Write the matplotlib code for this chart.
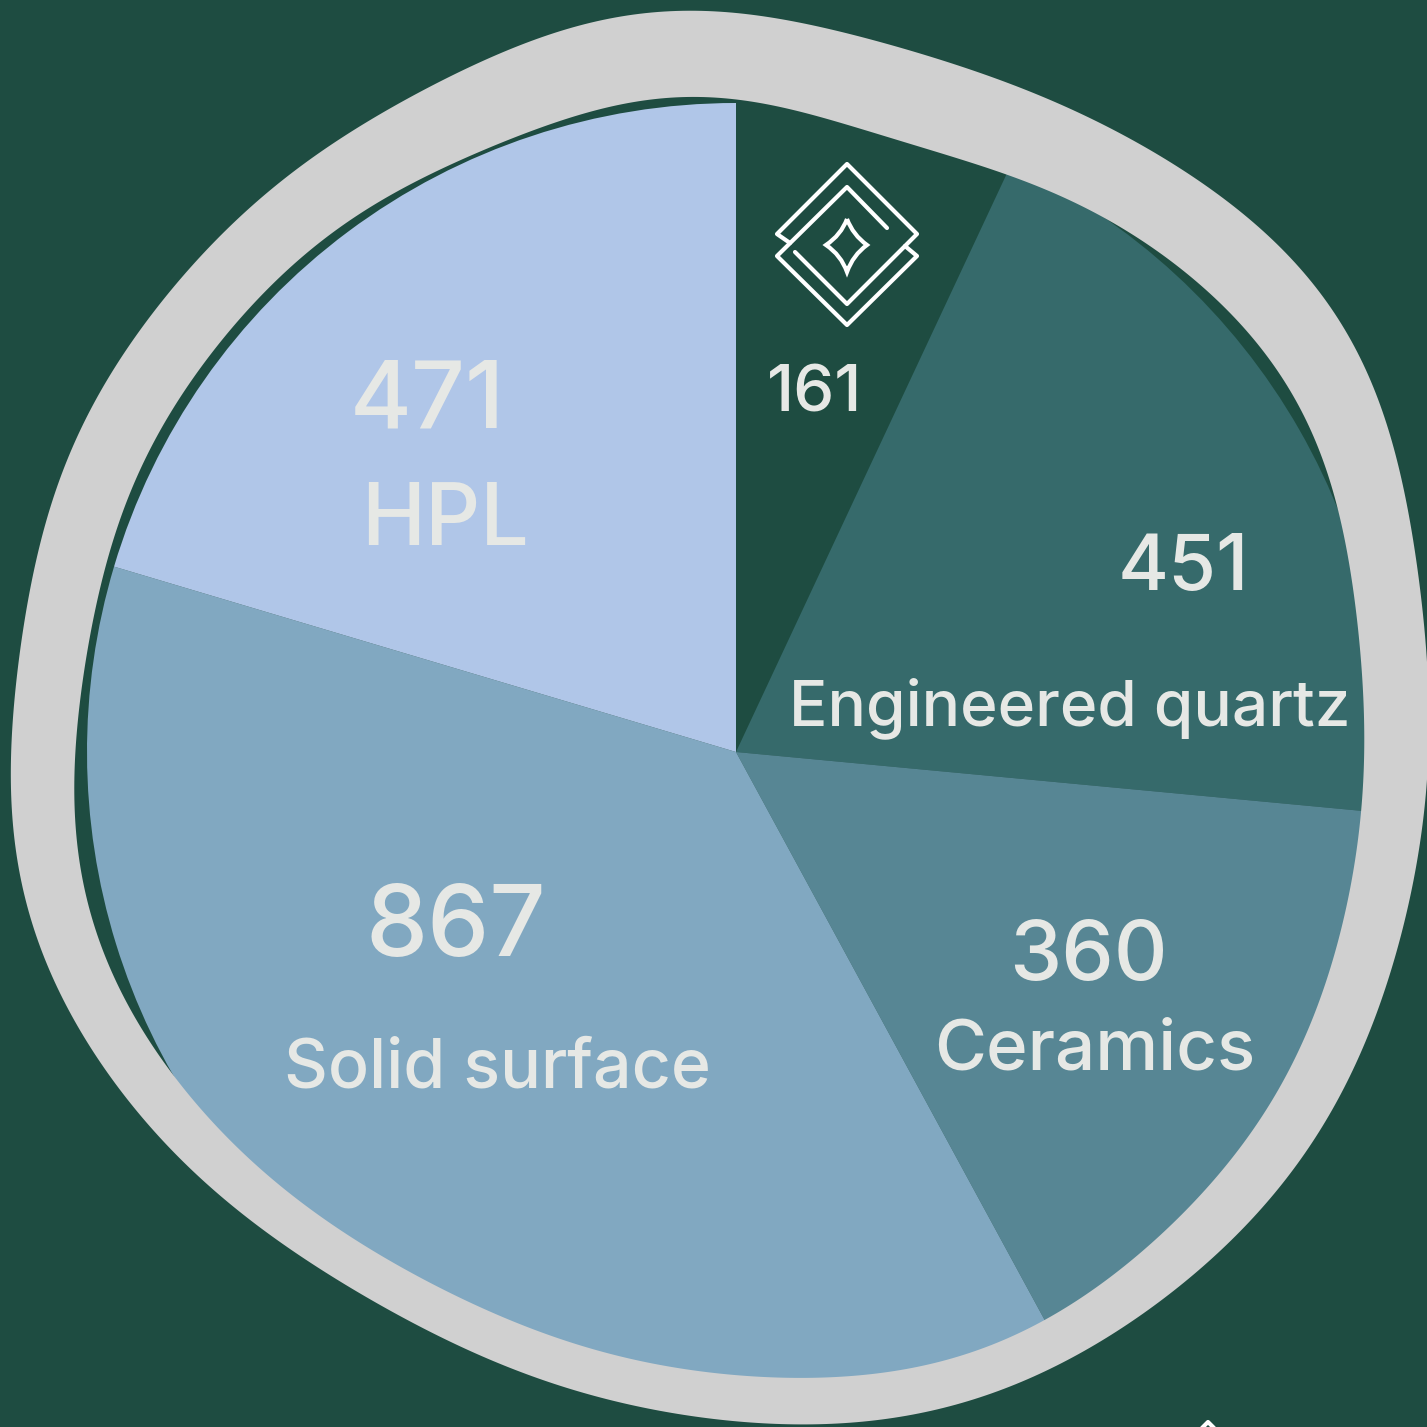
import numpy as np
import matplotlib
matplotlib.use('Agg')
import matplotlib.pyplot as plt
from matplotlib.path import Path
from matplotlib.patches import PathPatch

# Slices, clockwise from 12 o'clock
categories = ['', 'Engineered quartz', 'Ceramics', 'Solid surface', 'HPL']
values = [161, 451, 360, 867, 471]
colors = ['#1E4C41', '#366A6B', '#578694', '#81A8C1', '#B0C6E8']

BG = '#1E4C41'
RING = '#D0D0D0'
TEXT = '#E6E8E5'

# Hand drawn ring round the pie, in picture pixels
ring_outer = [(617, 17), (690, 10), (750, 14), (850, 35), (950, 63), (1050, 99), (1127, 137),
              (1210, 190), (1277, 243), (1327, 303), (1367, 370), (1394, 450), (1410, 533),
              (1423, 600), (1429, 680), (1428, 750), (1422, 817), (1410, 900), (1390, 977),
              (1367, 1040), (1335, 1100), (1281, 1187), (1221, 1250), (1154, 1307), (1087, 1347),
              (1021, 1383), (937, 1410), (854, 1422), (794, 1424), (740, 1422), (690, 1416),
              (640, 1407), (590, 1394), (540, 1379), (490, 1360), (440, 1338), (383, 1305),
              (317, 1267), (250, 1220), (183, 1163), (150, 1127), (117, 1083), (67, 1005),
              (43, 959), (23, 894), (14, 825), (13, 749), (18, 653), (32, 577), (53, 500),
              (70, 457), (105, 383), (151, 313), (210, 247), (281, 183), (368, 120), (456, 73),
              (550, 36)]
ring_inner = [(600, 108), (650, 99), (690, 97), (750, 102), (850, 125), (950, 157), (1027, 181),
              (1127, 232), (1210, 293), (1260, 347), (1304, 417), (1334, 490), (1345, 550),
              (1355, 600), (1364, 690), (1364, 733), (1360, 810), (1349, 900), (1324, 987),
              (1300, 1047), (1272, 1100), (1221, 1173), (1154, 1240), (1087, 1293), (1044, 1322),
              (954, 1357), (887, 1372), (794, 1378), (740, 1376), (690, 1370), (640, 1360),
              (590, 1348), (540, 1333), (490, 1311), (440, 1288), (383, 1257), (317, 1213),
              (250, 1160), (183, 1090), (157, 1050), (127, 1000), (93, 929), (80, 864), (76, 779),
              (78, 710), (87, 653), (105, 568), (147, 457), (189, 383), (239, 320), (298, 260),
              (368, 210), (456, 160), (550, 127)]


def smooth(points, harmonics=12, cx=720, cy=720):
    # fit radius against angle with a short fourier series, hand read points are wobbly
    pts = np.array(points, dtype=float)
    theta = np.arctan2(pts[:, 1] - cy, pts[:, 0] - cx)
    radius = np.hypot(pts[:, 0] - cx, pts[:, 1] - cy)

    def basis(t):
        cols = [np.ones_like(t)]
        for k in range(1, harmonics + 1):
            cols += [np.cos(k * t), np.sin(k * t)]
        return np.column_stack(cols)

    coef = np.linalg.lstsq(basis(theta), radius, rcond=None)[0]
    t = np.linspace(-np.pi, np.pi, 720, endpoint=False)
    r = basis(t) @ coef
    return np.column_stack([cx + r * np.cos(t), cy + r * np.sin(t)])


def draw_icon(ax, dx, dy):
    lw = 3
    line_a = [(790, 243), (777, 234), (847, 164), (917, 234), (847, 304), (795, 252)]
    line_b = [(887, 228), (847, 187), (777, 256), (847, 325), (917, 256), (905, 246)]
    for line in (line_a, line_b):
        xs = [p[0] + dx for p in line]
        ys = [p[1] + dy for p in line]
        ax.plot(xs, ys, color='white', lw=lw, solid_joinstyle='round', solid_capstyle='round')
    # small star in the middle, sides curve inward
    top, right, bottom, left = (847, 219), (867, 245), (847, 272), (826, 245)
    verts = [top, (853, 235), right, (853, 255), bottom, (841, 255), left, (841, 235), top]
    verts = [(x + dx, y + dy) for x, y in verts]
    codes = [Path.MOVETO] + [Path.CURVE3] * 8
    ax.add_patch(PathPatch(Path(verts, codes), fill=False, edgecolor='white', lw=lw))


fig = plt.figure(figsize=(14.27, 14.27), dpi=100, facecolor=BG)
ax = fig.add_axes([0, 0, 1, 1])

# y runs downward here, so counterclock goes clockwise on the picture
wedges, _ = ax.pie(values, colors=colors, center=(736, 752), radius=649, startangle=-90,
                   counterclock=True, wedgeprops={'linewidth': 0}, frame=True)
ax.set_xlim(0, 1427)
ax.set_ylim(1427, 0)
ax.axis('off')

outer = smooth(ring_outer)
inner = smooth(ring_inner)[::-1]
verts = np.vstack([outer, outer[:1], inner, inner[:1]])
codes = ([Path.MOVETO] + [Path.LINETO] * (len(outer) - 1) + [Path.CLOSEPOLY]
         + [Path.MOVETO] + [Path.LINETO] * (len(inner) - 1) + [Path.CLOSEPOLY])
ax.add_patch(PathPatch(Path(verts, codes), facecolor=RING, edgecolor='none', zorder=3))

# nothing of the pie shows outside the ring
edge = PathPatch(Path(outer), transform=ax.transData)
for w in wedges:
    w.set_clip_path(edge)

draw_icon(ax, 0, 0)
draw_icon(ax, 361, 1258)

font = ['Inter', 'DejaVu Sans']
labels = [('161', 815, 412, 47), ('471', 427, 428, 68), ('HPL', 445, 545, 62),
          ('451', 1183, 590, 56), ('Engineered quartz', 1070, 725, 46), ('360', 1088, 980, 60),
          ('Ceramics', 1095, 1070, 51), ('867', 456, 956, 71), ('Solid surface', 497, 1088, 49)]
for s, x, y, size in labels:
    ax.text(x, y, s, color=TEXT, fontsize=size, fontweight='medium', ha='center', va='baseline',
            family=font, zorder=4)

fig.savefig('out.png', dpi=100, facecolor=BG)
